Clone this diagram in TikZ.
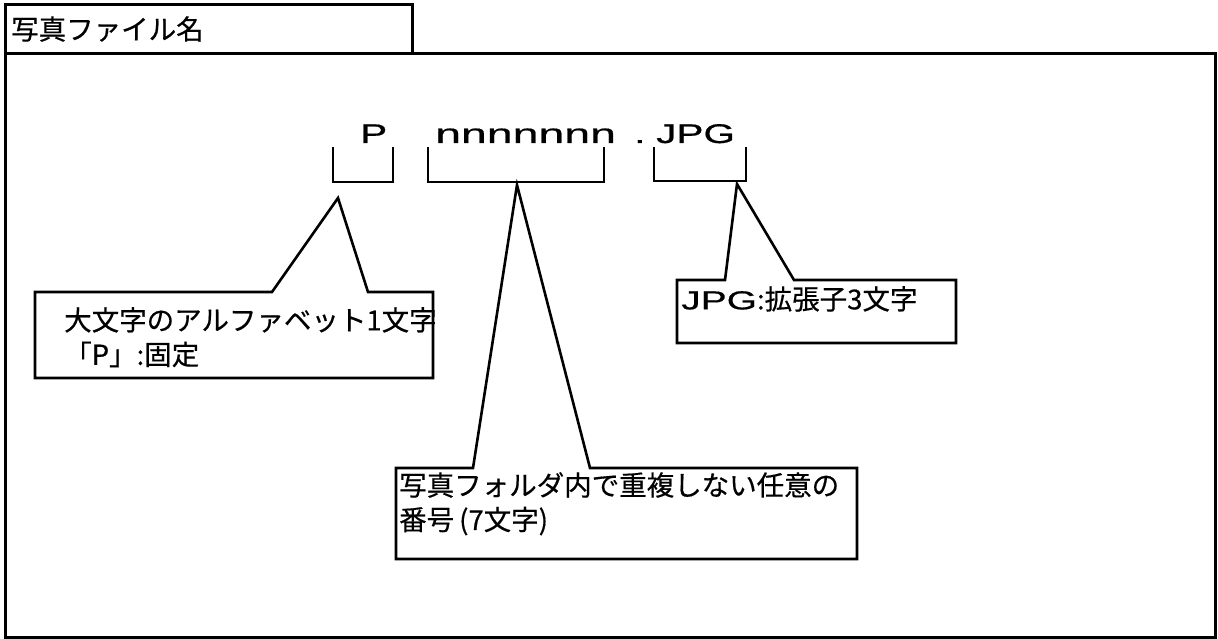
\documentclass[tikz,border=0pt]{standalone}
\usepackage{fontspec}
\setmainfont{Liberation Sans}
\newfontfamily\jp[FakeBold=0.5]{Noto Sans CJK JP}
\newfontfamily\latw[FakeStretch=1.5,FakeBold=0.6]{Liberation Sans}
\newfontfamily\latn[FakeStretch=1.72,FakeBold=0.6]{Liberation Sans}
\begin{document}
\begin{tikzpicture}[x=1pt,y=-1pt,
  frame/.style={line width=3pt,line join=miter},
  callout/.style={line width=2.6pt,line join=miter},
  bracket/.style={line width=2.8pt},
  jtext/.style={inner sep=0pt,anchor=north west,align=left,font=\jp\fontsize{27.5}{34.5}\selectfont},
  fname/.style={inner sep=0pt,anchor=base west,font=\latw\fontsize{27}{30}\selectfont}]
\useasboundingbox (0,0) rectangle (1218,639);
\fill[white] (0,0) rectangle (1218,639);
% frames
\draw[frame] (5,54) rectangle (1215,637);
\draw[frame] (5,5) rectangle (412,54);
\node[inner sep=0pt,anchor=west,font=\jp\fontsize{27.5}{30}\selectfont] (title) at (11,29) {写真ファイル名};
% file name
\node[fname] (fp) at (360,143) {P};
\node[fname,font=\latn\fontsize{27}{30}\selectfont] (fn) at (435,143) {nnnnnnn};
\node[fname] (fdot) at (634,143) {.};
\node[fname] (fext) at (656,143) {JPG};
% brackets
\draw[bracket] (333,147) -- (333,182) -- (393,182) -- (393,147);
\draw[bracket] (428,147) -- (428,182) -- (604,182) -- (604,147);
\draw[bracket] (654,147) -- (654,181) -- (746,181) -- (746,147);
\coordinate (tipP) at (338,198);
\coordinate (tipN) at (517,185);
\coordinate (tipE) at (737,184);
% callouts
\draw[callout] (35,292) -- (272,292) -- (tipP) -- (368,292) -- (433,292) -- (433,378) -- (35,378) -- cycle;
\draw[callout] (677,280) -- (725,280) -- (tipE) -- (794,280) -- (956,280) -- (956,343) -- (677,343) -- cycle;
\draw[callout] (396,468) -- (473,468) -- (tipN) -- (590,468) -- (857,468) -- (857,559) -- (396,559) -- cycle;
% texts
\node[jtext] (t1) at (64,307) {大文字のアルファベット1文字\\「P」:固定};
\node[jtext] (t2) at (681,286) {{\latw\fontsize{26}{30}\selectfont JPG}:拡張子3文字};
\node[jtext] (t3) at (399,472) {写真フォルダ内で重複しない任意の\\番号\hspace{5pt}(7文字)};
\end{tikzpicture}
\end{document}
